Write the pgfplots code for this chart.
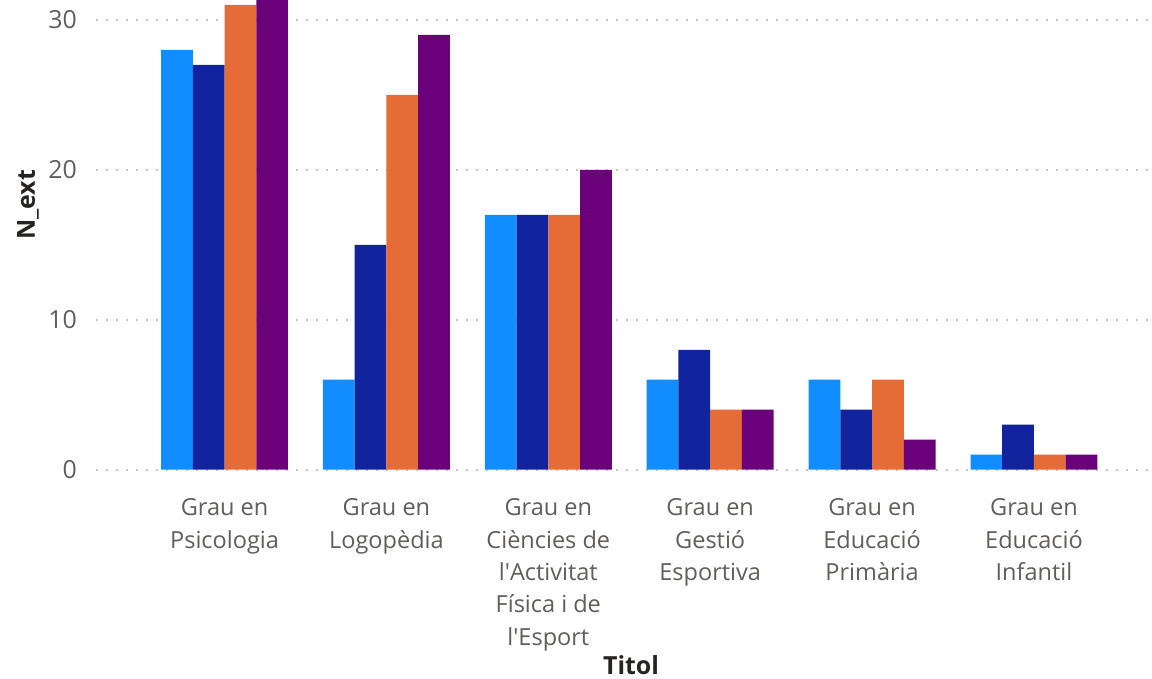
\documentclass[border=0pt]{standalone}
\usepackage{fontspec}
\setmainfont{Open Sans}
\usepackage{pgfplots}
\pgfplotsset{compat=1.18}
\definecolor{c1}{HTML}{118DFF}
\definecolor{c2}{HTML}{12239E}
\definecolor{c3}{HTML}{E66C37}
\definecolor{c4}{HTML}{6B007B}
\definecolor{ticklab}{HTML}{605E5C}
\definecolor{titlab}{HTML}{252423}
\definecolor{gridc}{HTML}{C8C6C4}
\begin{document}
\begin{tikzpicture}
\useasboundingbox (0,0) rectangle (1152bp,679bp);
\begin{axis}[
  at={(96bp,209.3bp)}, anchor=south west,
  scale only axis, width=1054bp, height=469.7bp,
  xmin=-0.794, xmax=5.717, ymin=0, ymax=31.33,
  ybar=0pt, bar width=0.196,
  axis line style={draw=none},
  major tick length=0pt,
  /pgf/number format/assume math mode=true,
  xtick={0,1,2,3,4,5},
  xticklabels={{Grau en\\Psicologia},{Grau en\\Logopèdia},{Grau en\\Ciències de\\l\textquotesingle Activitat\\Física i de\\l\textquotesingle Esport},{Grau en\\Gestió\\Esportiva},{Grau en\\Educació\\Primària},{Grau en\\Educació\\Infantil}},
  xticklabel style={align=center, anchor=north, inner sep=0pt, yshift=-29bp, text=ticklab, font=\fontsize{23.6}{32.4}\selectfont},
  ytick={0,10,20,30},
  yticklabel style={anchor=east, inner sep=0pt, xshift=-19bp, text=ticklab, font=\fontsize{25}{30}\selectfont},
  ymajorgrids, grid style={gridc, line width=1.6bp, dash pattern=on 1.6bp off 8.4bp},
  xlabel={Titol}, ylabel={N\_ext},
  xlabel style={at={(axis description cs:0.5076,-0.436)}, anchor=base, text=titlab, font=\fontsize{25}{30}\selectfont\bfseries},
  ylabel style={at={(axis description cs:-0.0579,0.5636)}, anchor=base, text=titlab, font=\fontsize{25}{30}\selectfont\bfseries},
  every axis plot/.append style={draw=none, fill opacity=1},
]
\addplot[fill=c1] coordinates {(0,28) (1,6) (2,17) (3,6) (4,6) (5,1)};
\addplot[fill=c2] coordinates {(0,27) (1,15) (2,17) (3,8) (4,4) (5,3)};
\addplot[fill=c3] coordinates {(0,31) (1,25) (2,17) (3,4) (4,6) (5,1)};
\addplot[fill=c4] coordinates {(0,32) (1,29) (2,20) (3,4) (4,2) (5,1)};
\end{axis}
\end{tikzpicture}
\end{document}
